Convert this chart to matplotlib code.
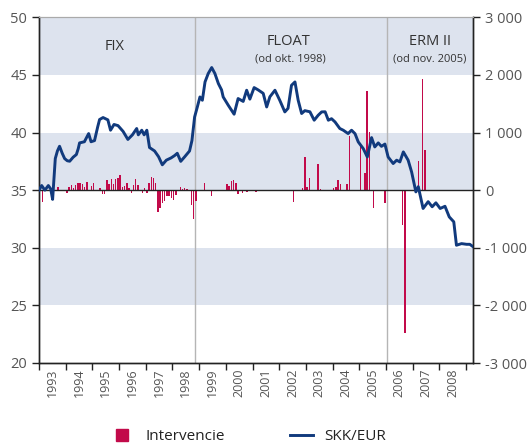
import matplotlib
matplotlib.use("Agg")
import matplotlib.pyplot as plt
from matplotlib.lines import Line2D
import numpy as np

plt.rcParams['font.family'] = ['Open Sans', 'DejaVu Sans']

# SKK/EUR exchange rate (decimal year, value)
rate_year = [1993.00, 1993.10, 1993.22, 1993.35, 1993.44, 1993.51, 1993.61, 1993.69, 1993.77,
             1993.87, 1993.96, 1994.06, 1994.15, 1994.28, 1994.40, 1994.47, 1994.52, 1994.70,
             1994.86, 1994.95, 1995.08, 1995.20, 1995.27, 1995.40, 1995.58, 1995.68, 1995.81,
             1995.96, 1996.15, 1996.33, 1996.50, 1996.66, 1996.72, 1996.85, 1996.94, 1997.04,
             1997.14, 1997.33, 1997.48, 1997.62, 1997.77, 1997.95, 1998.08, 1998.18, 1998.31,
             1998.46, 1998.64, 1998.73, 1998.83, 1998.93, 1999.03, 1999.12, 1999.22, 1999.34,
             1999.47, 1999.59, 1999.72, 1999.84, 1999.90, 2000.09, 2000.31, 2000.46, 2000.65,
             2000.78, 2000.90, 2001.06, 2001.21, 2001.40, 2001.53, 2001.65, 2001.84, 2002.02,
             2002.21, 2002.33, 2002.46, 2002.59, 2002.71, 2002.84, 2002.96, 2003.15, 2003.31,
             2003.46, 2003.59, 2003.72, 2003.84, 2003.96, 2004.09, 2004.27, 2004.40, 2004.58,
             2004.71, 2004.84, 2004.96, 2005.15, 2005.30, 2005.46, 2005.58, 2005.71, 2005.83,
             2005.96, 2006.08, 2006.27, 2006.40, 2006.52, 2006.65, 2006.83, 2006.96, 2007.12,
             2007.21, 2007.39, 2007.58, 2007.73, 2007.87, 2008.03, 2008.21, 2008.37, 2008.54,
             2008.64, 2008.83, 2009.02, 2009.14, 2009.27]
rate_value = [35.00, 35.40, 35.00, 35.40, 35.10, 34.20, 37.74, 38.40, 38.81,
              38.20, 37.74, 37.55, 37.51, 37.86, 38.09, 38.60, 39.10, 39.20,
              39.91, 39.20, 39.30, 40.50, 41.13, 41.30, 41.10, 40.20, 40.70,
              40.60, 40.10, 39.40, 39.80, 40.35, 39.80, 40.20, 39.80, 40.20,
              38.70, 38.40, 37.90, 37.20, 37.60, 37.80, 38.00, 38.20, 37.50,
              37.90, 38.40, 39.30, 41.35, 42.20, 43.09, 42.80, 44.39, 45.12,
              45.64, 45.12, 44.25, 43.70, 43.09, 42.37, 41.59, 42.95, 42.70,
              43.67, 42.90, 43.90, 43.70, 43.40, 42.22, 43.10, 43.67, 42.80,
              41.79, 42.10, 44.10, 44.39, 42.80, 41.65, 41.90, 41.80, 41.07,
              41.50, 41.79, 41.80, 41.07, 41.20, 40.92, 40.35, 40.20, 39.91,
              40.20, 39.90, 39.19, 38.60, 37.88, 39.56, 38.75, 39.10, 38.80,
              39.00, 37.88, 37.31, 37.60, 37.45, 38.32, 37.60, 36.58, 34.85,
              35.30, 33.41, 34.00, 33.56, 33.90, 33.41, 33.60, 32.68, 32.25,
              30.22, 30.36, 30.30, 30.30, 30.08]

# Interventions (month, value)
interv_month = ["1993-02", "1993-09", "1993-10",
                "1994-01", "1994-02", "1994-03", "1994-04", "1994-05", "1994-06", "1994-07",
                "1994-08", "1994-09", "1994-10", "1994-11", "1994-12",
                "1995-01", "1995-03", "1995-04", "1995-05", "1995-06", "1995-07", "1995-08",
                "1995-09", "1995-10", "1995-11", "1995-12",
                "1996-01", "1996-02", "1996-03", "1996-04", "1996-05", "1996-06", "1996-07",
                "1996-08", "1996-09", "1996-10", "1996-11", "1996-12",
                "1997-01", "1997-02", "1997-03", "1997-04", "1997-05", "1997-06", "1997-07",
                "1997-08", "1997-09", "1997-10", "1997-11", "1997-12",
                "1998-01", "1998-02", "1998-04", "1998-05", "1998-06", "1998-07", "1998-08",
                "1998-09", "1998-10", "1998-11",
                "1999-03", "1999-05", "1999-06",
                "2000-01", "2000-02", "2000-03", "2000-04", "2000-05", "2000-06", "2000-07",
                "2000-08", "2000-10", "2001-02",
                "2002-07", "2002-11", "2002-12",
                "2003-01", "2003-02", "2003-06", "2003-07",
                "2004-01", "2004-02", "2004-03", "2004-04", "2004-07", "2004-08",
                "2005-01", "2005-03", "2005-04", "2005-05", "2005-07", "2005-12",
                "2006-08", "2006-09",
                "2007-03", "2007-05", "2007-06"]
interv_value = [-210, 58, -23,
                -58, 58, 98, 40, 81, 127, 127,
                115, 58, 139, -12, 69,
                127, -23, 40, -75, -75, 173, 115,
                185, 115, 185, 214,
                266, 58, 69, 127, 40, -58, 81,
                185, 81, -23, -58, 40,
                -58, 127, 220, 208, 127, -381, -306,
                -220, -191, -104, -104, -130,
                -173, -92, 58, 23, 40, 23, -17,
                -250, -500, -190,
                125, -20, -95,
                110, 80, 160, 180, 130, -70, -15,
                -50, -40, -40,
                -200, 30, 580,
                55, 215, 460, 20,
                30, 60, 175, 100, 100, 940,
                760, 290, 1720, 1010, -310, -230,
                -600, -2480,
                500, 1930, 700]

regime_labels = ["FIX", "FLOAT", "ERM II"]
regime_sub = ["", "(od okt. 1998)", "(od nov. 2005)"]
year_labels = [str(y) for y in range(1993, 2009)]
legend_labels = ["Intervencie", "SKK/EUR"]

line_color = "#113a7d"
bar_color = "#c20a4a"
band_color = "#dde3ee"
text_color = "#555555"

fig = plt.figure(figsize=(5.29, 4.48), dpi=100)
ax = fig.add_axes([39/529, 1 - 363/448, (473-39)/529, (363-17.3)/448])
ax2 = ax.twinx()

ax.set_xlim(1993.0, 2009.26)
ax.set_ylim(20, 50)
ax2.set_ylim(-3000, 3000)

for lo, hi in [(45, 50), (35, 40), (25, 30)]:
    ax.axhspan(lo, hi, color=band_color, lw=0, zorder=0)

for xv in [1998.84, 2006.03]:
    ax.axvline(xv, color="#b5b5b5", lw=1.0, zorder=1)

# bars on right axis
bar_x = [int(m[:4]) + (int(m[5:]) - 0.5) / 12 for m in interv_month]
ax2.bar(bar_x, interv_value, width=0.65/12, color=bar_color, zorder=2)
ax2.axhline(0, color="#222222", lw=1.0, zorder=3)

ax2.plot(rate_year, [(v - 35) * 200 for v in rate_value], color=line_color, lw=2.1, zorder=4,
         solid_joinstyle='round')

# ticks
ax.set_yticks(range(20, 51, 5))
ax2.set_yticks(range(-3000, 3001, 1000))
ax2.set_yticklabels([("-" if v < 0 else "") + f"{abs(v):,}".replace(",", " ") for v in range(-3000, 3001, 1000)])
ax.set_xticks(np.arange(1993, 2010))
ax.set_xticklabels([])
ax.set_xticks(np.arange(1993, 2009) + 0.5, minor=True)
ax.set_xticklabels(year_labels, minor=True, rotation=90, fontsize=9, color=text_color)
ax.tick_params(axis='x', which='major', length=5, width=1, direction='out', color="#222222")
ax.tick_params(axis='x', which='minor', length=0, pad=4)
ax.tick_params(axis='y', length=5, width=1, direction='out', labelsize=10.5, labelcolor=text_color, color="#222222")
ax2.tick_params(axis='y', length=5, width=1, direction='out', labelsize=10.5, labelcolor=text_color, color="#222222")

for a in (ax, ax2):
    a.spines['top'].set_color("#aaaaaa")
    a.spines['top'].set_linewidth(0.8)
    for s in ('left', 'right', 'bottom'):
        a.spines[s].set_color("#222222")
        a.spines[s].set_linewidth(1.0)
ax.set_zorder(0)
ax2.set_zorder(1)
ax2.patch.set_visible(False)

# regime labels
ax2.text(1995.85, 2500, regime_labels[0], ha='center', va='center', fontsize=10.5, color="#333333")
ax2.text(2002.35, 2580, regime_labels[1], ha='center', va='center', fontsize=10.5, color="#333333")
ax2.text(2002.40, 2275, regime_sub[1], ha='center', va='center', fontsize=8, color="#333333")
ax2.text(2007.65, 2580, regime_labels[2], ha='center', va='center', fontsize=10.5, color="#333333")
ax2.text(2007.65, 2275, regime_sub[2], ha='center', va='center', fontsize=8, color="#333333")

handles = [Line2D([], [], marker='s', linestyle='none', markersize=8, color=bar_color),
           Line2D([], [], color=line_color, lw=2.1)]
fig.legend(handles, legend_labels, loc='center', bbox_to_anchor=(0.47, 0.025), ncol=2,
           frameon=False, fontsize=11, columnspacing=4.2, handlelength=1.5, handletextpad=0.8,
           labelcolor="#222222")

fig.savefig("out.png", dpi=100)
